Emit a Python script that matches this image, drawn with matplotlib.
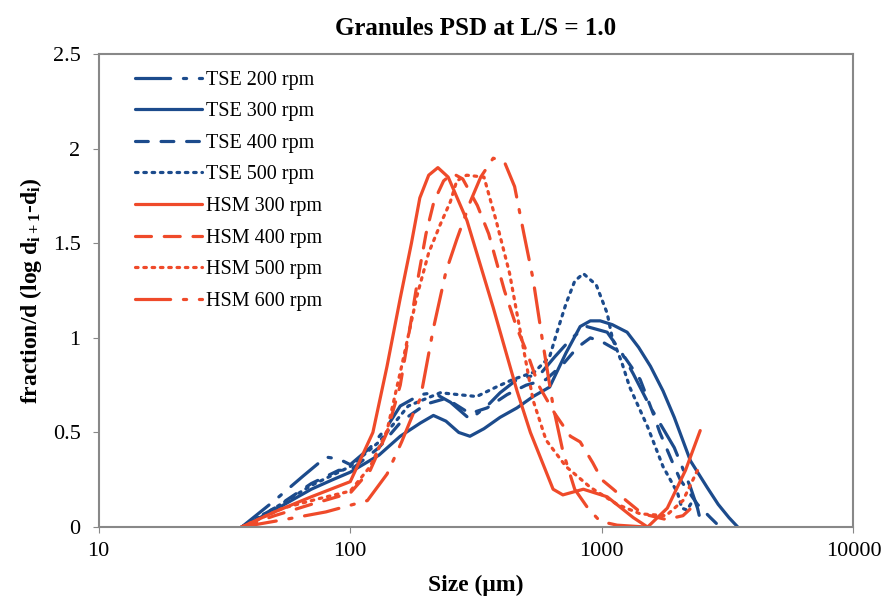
import numpy as np
import matplotlib
matplotlib.use("Agg")
import matplotlib.pyplot as plt

plt.rcParams['font.family'] = ['Liberation Serif', 'DejaVu Serif']
plt.rcParams['mathtext.fontset'] = 'custom'
plt.rcParams['mathtext.rm'] = 'Liberation Serif:bold'
plt.rcParams['mathtext.it'] = 'Liberation Serif:bold'
plt.rcParams['mathtext.bf'] = 'Liberation Serif:bold'

# 读图得到的数据 (size in um, fraction/d)
tse200_x = [37, 50, 65, 80, 90, 100, 120, 140, 158, 190, 214, 250, 299, 350, 394, 460, 570, 650, 760, 870, 1050, 1200, 1333, 1550, 1940, 2250, 2400, 2500]
tse200_y = [0, 0.14, 0.27, 0.37, 0.36, 0.33, 0.42, 0.53, 0.64, 0.70, 0.71, 0.66, 0.57, 0.64, 0.71, 0.78, 0.81, 0.90, 1.00, 1.06, 1.03, 0.92, 0.81, 0.64, 0.42, 0.21, 0.10, 0.0]

tse300_x = [37, 50, 70, 85, 100, 130, 158, 190, 214, 240, 270, 299, 340, 394, 460, 533, 620, 720, 820, 900, 985, 1100, 1260, 1400, 1560, 1750, 1940, 2250, 2620, 2900, 3200, 3470]
tse300_y = [0, 0.09, 0.20, 0.25, 0.29, 0.38, 0.48, 0.55, 0.59, 0.56, 0.50, 0.48, 0.52, 0.58, 0.63, 0.69, 0.74, 0.92, 1.06, 1.09, 1.09, 1.07, 1.03, 0.95, 0.85, 0.72, 0.58, 0.35, 0.21, 0.12, 0.05, 0.0]

tse400_x = [37, 50, 70, 90, 100, 130, 160, 200, 240, 299, 350, 420, 500, 600, 700, 800, 900, 1000, 1200, 1420, 1600, 1700, 1940, 2050, 2400, 2700, 2950]
tse400_y = [0, 0.10, 0.23, 0.30, 0.30, 0.42, 0.56, 0.65, 0.68, 0.60, 0.63, 0.70, 0.75, 0.78, 0.86, 0.95, 1.00, 0.98, 0.92, 0.78, 0.60, 0.50, 0.32, 0.25, 0.12, 0.05, 0.0]

tse500_x = [37, 50, 70, 100, 130, 170, 228, 318, 380, 443, 540, 620, 663, 720, 780, 844, 950, 1050, 1100, 1200, 1290, 1520, 1750, 2000, 2080, 2180, 2300]
tse500_y = [0, 0.10, 0.22, 0.32, 0.45, 0.64, 0.71, 0.69, 0.74, 0.78, 0.82, 0.90, 1.03, 1.18, 1.30, 1.34, 1.28, 1.13, 1.00, 0.87, 0.74, 0.53, 0.32, 0.18, 0.10, 0.09, 0.14]

hsm300_x = [37, 50, 70, 100, 123, 140, 158, 175, 189, 205, 223, 245, 291, 370, 460, 520, 569, 640, 700, 844, 1050, 1333, 1520, 1820, 2150, 2460]
hsm300_y = [0, 0.08, 0.16, 0.24, 0.50, 0.85, 1.21, 1.50, 1.74, 1.86, 1.90, 1.85, 1.62, 1.16, 0.72, 0.50, 0.37, 0.20, 0.17, 0.20, 0.16, 0.05, 0.0, 0.10, 0.30, 0.51]

hsm400_x = [37, 50, 70, 100, 120, 140, 158, 170, 185, 200, 215, 235, 255, 280, 320, 355, 410, 460, 505, 560, 650, 750, 820, 920, 1000, 1110, 1250, 1450, 1800, 2100, 2350]
hsm400_y = [0, 0.06, 0.12, 0.18, 0.30, 0.50, 0.75, 1.00, 1.30, 1.55, 1.72, 1.83, 1.87, 1.84, 1.70, 1.55, 1.25, 1.05, 0.92, 0.75, 0.60, 0.48, 0.45, 0.34, 0.25, 0.20, 0.14, 0.07, 0.04, 0.06, 0.12]

hsm500_x = [37, 54, 75, 100, 120, 140, 160, 184, 205, 228, 250, 265, 290, 340, 380, 430, 470, 533, 600, 720, 900, 1150, 1420, 1800, 2100, 2400]
hsm500_y = [0, 0.10, 0.15, 0.19, 0.32, 0.51, 0.85, 1.22, 1.45, 1.60, 1.72, 1.83, 1.86, 1.85, 1.62, 1.34, 1.06, 0.67, 0.46, 0.32, 0.21, 0.12, 0.07, 0.06, 0.14, 0.30]

hsm600_x = [37, 55, 80, 117, 140, 160, 178, 190, 214, 240, 265, 300, 330, 370, 410, 450, 490, 533, 580, 640, 700, 780, 880, 985, 1150, 1500]
hsm600_y = [0, 0.04, 0.08, 0.14, 0.28, 0.45, 0.60, 0.68, 1.05, 1.35, 1.52, 1.72, 1.85, 1.95, 1.93, 1.80, 1.55, 1.31, 0.99, 0.64, 0.40, 0.20, 0.10, 0.03, 0.01, 0.0]

blue = '#1c4b8c'
red = '#ef4a2a'

series = [
    ('TSE 200 rpm', tse200_x, tse200_y, blue, (0, (11, 4, 1, 4))),
    ('TSE 300 rpm', tse300_x, tse300_y, blue, '-'),
    ('TSE 400 rpm', tse400_x, tse400_y, blue, (0, (4, 4))),
    ('TSE 500 rpm', tse500_x, tse500_y, blue, (0, (0.8, 1.8))),
    ('HSM 300 rpm', hsm300_x, hsm300_y, red, '-'),
    ('HSM 400 rpm', hsm400_x, hsm400_y, red, (0, (5, 4))),
    ('HSM 500 rpm', hsm500_x, hsm500_y, red, (0, (0.8, 1.8))),
    ('HSM 600 rpm', hsm600_x, hsm600_y, red, (0, (11, 4, 1, 4))),
]

fig = plt.figure(figsize=(8.89, 6.15), dpi=100)
ax = fig.add_axes([0.111, 0.143, 0.849, 0.769])

for name, xs, ys, c, ls in series:
    ax.plot(xs, ys, color=c, linestyle=ls, linewidth=2.3, label=name,
            dash_capstyle='round', solid_capstyle='round')

ax.set_xscale('log')
ax.set_xlim(10, 10000)
ax.set_ylim(0, 2.5)
ax.set_xticks([10, 100, 1000, 10000])
ax.set_xticklabels(['10', '100', '1000', '10000'])
ax.xaxis.set_minor_locator(matplotlib.ticker.NullLocator())
ax.set_yticks([0, 0.5, 1, 1.5, 2, 2.5])
ax.set_yticklabels(['0', '0.5', '1', '1.5', '2', '2.5'])
ax.tick_params(labelsize=16, length=4, color='#888888', direction='out')
ax.tick_params(axis='y', pad=9)
ax.tick_params(axis='x', pad=7)
for s in ax.spines.values():
    s.set_color('#888888')
    s.set_linewidth(1.5)

ax.set_title('Granules PSD at L/S = 1.0', fontsize=18, fontweight='bold', pad=14)
ax.set_xlabel('Size (μm)', fontsize=17, fontweight='bold', labelpad=10)
ax.set_ylabel(r'fraction/d (log d$_{i+1}$-d$_{i}$)', fontsize=17, fontweight='bold', labelpad=6)

ax.legend(loc='upper left', bbox_to_anchor=(0.03, 0.995), frameon=False, fontsize=14.5,
          handlelength=3.3, handletextpad=0.2, labelspacing=0.62, borderaxespad=0.3)

fig.savefig('out.png', dpi=100)
